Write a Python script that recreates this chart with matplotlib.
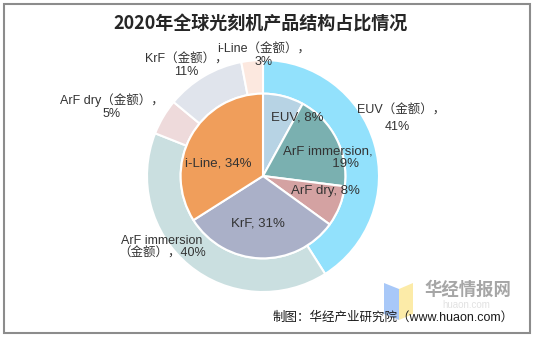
import matplotlib.pyplot as plt
from matplotlib.patches import Polygon, Rectangle

plt.rcParams['font.family'] = ['Liberation Sans', 'Noto Sans CJK SC', 'DejaVu Sans']

# 外环：金额占比
outer_names = ['EUV', 'ArF immersion', 'ArF dry', 'KrF', 'i-Line']
outer_vals = [41, 40, 5, 11, 3]
outer_colors = ['#92E1FC', '#CADFE0', '#EEDADB', '#E0E4EC', '#FCE8DF']

# 内环：数量占比
inner_names = ['EUV', 'ArF immersion', 'ArF dry', 'KrF', 'i-Line']
inner_vals = [8, 19, 8, 31, 34]
inner_colors = ['#B7D3E4', '#7AB0B0', '#D4A2A2', '#AAB0C8', '#F09E5B']

title = '2020年全球光刻机产品结构占比情况'
source = '制图：华经产业研究院（www.huaon.com）'

fig = plt.figure(figsize=(5.37, 3.38), dpi=100)
W, H = 537, 338

# 外框
fig.patches.append(Rectangle((4 / W, 5 / H), 526 / W, 329 / H, transform=fig.transFigure,
                             fill=False, edgecolor='#8C8C8C', linewidth=1.5))

cx, cy, R = 263, 176, 116
ax = fig.add_axes([(cx - R) / W, (H - cy - R) / H, 2 * R / W, 2 * R / H])

r_in = 0.71
ax.pie(outer_vals, radius=1, colors=outer_colors, startangle=90, counterclock=False,
       wedgeprops=dict(width=1 - r_in, edgecolor='white', linewidth=1.5))
ax.pie(inner_vals, radius=r_in, colors=inner_colors, startangle=90, counterclock=False,
       wedgeprops=dict(edgecolor='white', linewidth=1.5))
ax.set_xlim(-1, 1)
ax.set_ylim(-1, 1)
ax.axis('off')


def px(x, y):
    return x / W, 1 - y / H


fs = 9
tc = '#333333'
# 外环标签
fig.text(*px(357, 111), 'EUV（金额），', ha='left', va='center', fontsize=fs, color=tc)
fig.text(*px(397, 127), '41%', ha='center', va='center', fontsize=fs, color=tc)
outer_pos = [(162, 247), (112, 107), (186, 66), (264, 56)]
outer_txt = ['ArF immersion\n（金额），40%', 'ArF dry（金额），\n5%',
             'KrF（金额），\n11%', 'i-Line（金额），\n3%']
for (x, y), t in zip(outer_pos, outer_txt):
    fig.text(*px(x, y), t, ha='center', va='center', fontsize=fs, color=tc, linespacing=1.1)

# 内环标签
inner_pos = [(297, 118), (328, 158), (325, 191), (258, 223), (218, 164)]
inner_txt = ['EUV, 8%', 'ArF immersion,\n          19%', 'ArF dry, 8%', 'KrF, 31%', 'i-Line, 34%']
for (x, y), t in zip(inner_pos, inner_txt):
    fig.text(*px(x, y), t, ha='center', va='center', fontsize=9.5, color=tc, linespacing=1.1)

fig.text(*px(261, 24), title, ha='center', va='center', fontsize=13, fontweight='bold',
         color='#262626', family=['Noto Sans CJK SC'])

# 水印
fig.patches.append(Polygon([px(384, 283), px(399, 289), px(399, 320), px(384, 314)],
                           transform=fig.transFigure, facecolor='#A8C8F8', edgecolor='none'))
fig.patches.append(Polygon([px(399, 289), px(413, 283), px(413, 314), px(399, 320)],
                           transform=fig.transFigure, facecolor='#FCEBA8', edgecolor='none'))
fig.text(*px(468, 290), '华经情报网', ha='center', va='center', fontsize=12.5,
         fontweight='bold', color='#A6A6A6', family=['Noto Sans CJK SC'])
fig.text(*px(466, 305), 'huaon.com', ha='center', va='center', fontsize=7,
         color='#E2E2E2')

fig.text(*px(514, 318), source, ha='right', va='center', fontsize=9, color='#1A1A1A')

fig.savefig('out.png', dpi=100)
